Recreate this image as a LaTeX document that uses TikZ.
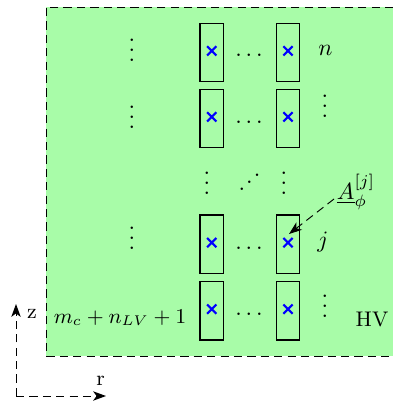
\documentclass[tikz,border=0pt]{standalone}
\usetikzlibrary{arrows.meta,shapes.misc}
\definecolor{hvgreen}{RGB}{168,252,168}
\newcommand\myvdots{\vbox{\baselineskip4.25pt\lineskiplimit0pt\hbox{.}\hbox{.}\hbox{.}}}
\newcommand\myiddots{\hbox{.\kern0.45pt\raise3pt\hbox{.}\kern0.45pt\raise6pt\hbox{.}}}
\begin{document}
\begin{tikzpicture}[x=0.4255pt,y=-0.4255pt,
  cell/.style={draw,line width=0.55pt,minimum width=10pt,minimum height=24.9pt,inner sep=0pt},
  xmark/.style={cross out,draw=blue,line width=0.95pt,minimum size=3pt,inner sep=0pt},
  dashline/.style={dash pattern=on 3.5pt off 2.2pt},
  tip/.style={-{Stealth[length=5.5pt,width=4pt,inset=1.5pt]}},
  dts/.style={anchor=base,inner sep=0pt},
  lbl/.style={anchor=base,inner sep=0pt,font=\small},
  mlbl/.style={anchor=base,inner sep=0pt}]
\useasboundingbox (0,0) rectangle (392,401);
% HV region
\fill[hvgreen] (46,7) rectangle (420,356);
\draw[dashline] (420,7) -- (46,7) -- (46,356) -- (420,356);
% cells
\foreach \r/\y in {1/52.5,2/118.5,4/244.25,5/310.75}{
  \node[cell] (b\r a) at (211.75,\y) {};
  \node[cell] (b\r b) at (288,\y) {};
  \node[xmark] (x\r a) at (211.75,\y-1.6) {};
  \node[xmark] (x\r b) at (288,\y-1.6) {};
}
% horizontal dots
\node[dts] (h1) at (249,56.3) {$\ldots$};
\node[dts] (h2) at (249,123.3) {$\ldots$};
\node[dts] (h4) at (249,249.3) {$\ldots$};
\node[dts] (h5) at (249,315.3) {$\ldots$};
% left vertical dots
\node[dts] (l1) at (132,61.3) {\myvdots};
\node[dts] (l2) at (132,128.3) {\myvdots};
\node[dts] (l4) at (132,249.3) {\myvdots};
% middle row
\node[dts] (m1) at (207,194.3) {\myvdots};
\node[dts] (m2) at (249.5,190.3) {\myiddots};
\node[dts] (m3) at (284,194.3) {\myvdots};
% right labels
\node[mlbl] (rn) at (325.5,56) {$n$};
\node[dts] (r2) at (325,117.3) {\myvdots};
\node[mlbl] (rj) at (323,247) {$j$};
\node[dts] (r5) at (325,317.3) {\myvdots};
\node[lbl] (mc) at (120,323) {$m_c+n_{LV}+1$};
\node[lbl] (hv) at (372,326) {HV};
% A label and arrow
\node[anchor=base west,inner sep=0pt] (A) at (336.5,199) {$\underline{A}_\phi^{[j]}$};
\coordinate (as) at (334,199);
\coordinate (ae) at (289,234);
\draw[dashline,tip] (as) -- (ae);
% axes
\coordinate (o) at (16,396);
\coordinate (zt) at (16,304);
\coordinate (rt) at (106,396);
\draw[dashline,tip] (o) -- (zt);
\draw[dashline,tip] (o) -- (rt);
\node[lbl] (zl) at (32,318) {z};
\node[lbl] (rl) at (100.5,385) {r};
\end{tikzpicture}
\end{document}
